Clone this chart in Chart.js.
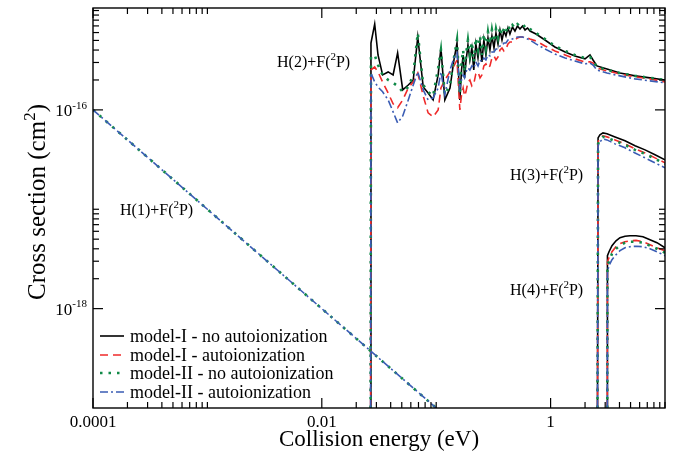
<!DOCTYPE html>
<html>
<head>
<meta charset="utf-8">
<title>Cross section vs collision energy</title>
<script src="https://cdn.jsdelivr.net/npm/chart.js@4.4.1/dist/chart.umd.min.js"></script>
<style>
    html, body { margin: 0; padding: 0; background: #fff; }
    #chart { display: block; }
</style>
</head>
<body>
<canvas id="chart" width="673" height="455"></canvas>
<script>
// Axis ticks (log-log axes)
const xTickValues = [1e-4, 1e-2, 1];
const xTickLabels = ['0.0001', '0.01', '1'];
const yTickValues = [1e-18, 1e-16];
const yTickExponents = ['-18', '-16'];

const seriesNames = [
    'model-I - no autoionization',
    'model-I - autoionization',
    'model-II - no autoionization',
    'model-II - autoionization'
];

// H(1)+F(2P) channel, only drawn for the model-II curves
const h1Energy = [1e-4, 1e-3, 1e-2, 0.1];
const h1Sigma = [1e-16, 1e-17, 1e-18, 1e-19];

// H(2)+F(2P) channel
const h2Energy = [0.0267, 0.0269, 0.029, 0.031, 0.034, 0.038, 0.042, 0.046, 0.051, 0.057,
    0.063, 0.069, 0.077, 0.085, 0.094, 0.104, 0.110, 0.119, 0.132, 0.143,
    0.152, 0.161, 0.1665, 0.172, 0.177, 0.182, 0.1895, 0.197, 0.205, 0.213,
    0.222, 0.232, 0.2415, 0.251, 0.261, 0.272, 0.2835, 0.295, 0.307, 0.320,
    0.333, 0.347, 0.361, 0.376, 0.391, 0.407, 0.424, 0.441, 0.464, 0.488,
    0.513, 0.540, 0.568, 0.598, 0.629, 0.661, 0.745, 0.893, 1.09, 1.34,
    1.63, 2.00, 2.21, 2.35, 2.54, 3.11, 4.04, 5.47, 7.39, 10];
const h2ModelINoAuto = [1e-19, 4.71e-16, 7.31e-16, 3.57e-16, 2.25e-16, 2.41e-16, 2.25e-16, 3.74e-16, 1.59e-16, 1.78e-16,
    2.00e-16, 5.41e-16, 1.70e-16, 1.48e-16, 1.26e-16, 2.25e-16, 4.20e-16, 1.26e-16, 1.66e-16, 3.18e-16,
    4.71e-16, 1.26e-16, 2.52e-16, 3.57e-16, 2.10e-16, 3.04e-16, 4.50e-16, 3.18e-16, 4.20e-16, 2.52e-16,
    4.61e-16, 3.33e-16, 4.82e-16, 3.04e-16, 5.05e-16, 3.57e-16, 5.29e-16, 4.01e-16, 5.54e-16, 4.20e-16,
    5.94e-16, 4.61e-16, 6.37e-16, 5.05e-16, 6.22e-16, 5.54e-16, 6.67e-16, 5.80e-16, 6.82e-16, 6.22e-16,
    6.98e-16, 6.52e-16, 6.98e-16, 6.37e-16, 6.67e-16, 6.22e-16, 5.80e-16, 5.05e-16, 4.30e-16, 3.83e-16,
    3.49e-16, 3.26e-16, 3.57e-16, 3.18e-16, 2.77e-16, 2.58e-16, 2.35e-16, 2.20e-16, 2.10e-16, 2.00e-16];
const h2ModelIAuto = [1e-19, 2.52e-16, 2.70e-16, 2.41e-16, 1.91e-16, 1.48e-16, 1.15e-16, 1.05e-16, 1.26e-16, 1.66e-16,
    1.91e-16, 2.35e-16, 1.38e-16, 9.33e-17, 8.50e-17, 1.00e-16, 1.66e-16, 2.00e-16, 2.41e-16, 2.77e-16,
    3.18e-16, 1.00e-16, 1.42e-16, 1.66e-16, 1.38e-16, 1.52e-16, 1.91e-16, 2.00e-16, 1.74e-16, 1.83e-16,
    2.30e-16, 2.41e-16, 2.10e-16, 2.25e-16, 2.77e-16, 2.90e-16, 2.64e-16, 2.77e-16, 3.33e-16, 3.49e-16,
    3.18e-16, 3.41e-16, 4.01e-16, 4.20e-16, 3.92e-16, 4.10e-16, 4.61e-16, 4.82e-16, 4.82e-16, 5.05e-16,
    5.29e-16, 5.41e-16, 5.41e-16, 5.41e-16, 5.29e-16, 5.17e-16, 4.94e-16, 4.40e-16, 3.92e-16, 3.57e-16,
    3.26e-16, 3.04e-16, 3.04e-16, 2.97e-16, 2.64e-16, 2.47e-16, 2.30e-16, 2.15e-16, 2.05e-16, 1.91e-16];
const h2ModelIINoAuto = [1e-19, 3.41e-16, 3.57e-16, 2.83e-16, 2.25e-16, 2.00e-16, 1.87e-16, 1.74e-16, 1.52e-16, 1.70e-16,
    2.25e-16, 5.94e-16, 1.78e-16, 1.52e-16, 1.38e-16, 2.64e-16, 4.01e-16, 1.42e-16, 1.78e-16, 3.33e-16,
    5.05e-16, 1.42e-16, 3.04e-16, 4.01e-16, 2.41e-16, 3.57e-16, 5.05e-16, 3.57e-16, 4.82e-16, 3.04e-16,
    5.29e-16, 4.01e-16, 5.54e-16, 3.57e-16, 5.80e-16, 4.20e-16, 6.08e-16, 4.61e-16, 6.37e-16, 4.82e-16,
    6.52e-16, 5.29e-16, 6.82e-16, 5.67e-16, 6.67e-16, 6.08e-16, 7.15e-16, 6.37e-16, 7.15e-16, 6.67e-16,
    7.31e-16, 6.98e-16, 7.31e-16, 6.82e-16, 6.98e-16, 6.52e-16, 5.94e-16, 5.17e-16, 4.40e-16, 3.92e-16,
    3.57e-16, 3.33e-16, 3.41e-16, 3.11e-16, 2.70e-16, 2.52e-16, 2.35e-16, 2.20e-16, 2.10e-16, 2.00e-16];
const h2ModelIIAuto = [1e-19, 2.35e-16, 1.91e-16, 1.70e-16, 1.52e-16, 1.26e-16, 9.55e-17, 7.40e-17, 8.70e-17, 1.26e-16,
    1.78e-16, 2.41e-16, 1.59e-16, 1.26e-16, 1.32e-16, 1.66e-16, 2.41e-16, 1.42e-16, 2.52e-16, 3.33e-16,
    3.74e-16, 1.66e-16, 2.00e-16, 2.25e-16, 2.10e-16, 2.41e-16, 2.64e-16, 2.52e-16, 2.77e-16, 2.64e-16,
    3.04e-16, 2.77e-16, 3.18e-16, 3.04e-16, 3.33e-16, 3.18e-16, 3.57e-16, 3.49e-16, 3.83e-16, 3.83e-16,
    4.10e-16, 4.10e-16, 4.40e-16, 4.40e-16, 4.71e-16, 4.71e-16, 5.05e-16, 5.05e-16, 5.17e-16, 5.29e-16,
    5.41e-16, 5.41e-16, 5.41e-16, 5.29e-16, 5.17e-16, 5.05e-16, 4.61e-16, 4.10e-16, 3.65e-16, 3.33e-16,
    3.11e-16, 2.90e-16, 2.97e-16, 2.83e-16, 2.52e-16, 2.35e-16, 2.20e-16, 2.05e-16, 1.96e-16, 1.87e-16];

// H(3)+F(2P) channel
const h3Energy = [2.57, 2.60, 2.70, 2.87, 3.11, 3.66, 4.47, 5.47, 6.69, 8.18, 10];
const h3ModelINoAuto = [1e-19, 5.23e-17, 5.60e-17, 5.87e-17, 5.74e-17, 5.35e-17, 4.88e-17, 4.35e-17, 3.96e-17, 3.53e-17, 3.14e-17];
const h3ModelIAuto = [1e-19, 4.77e-17, 5.23e-17, 5.48e-17, 5.35e-17, 4.99e-17, 4.55e-17, 4.06e-17, 3.69e-17, 3.29e-17, 2.93e-17];
const h3ModelIINoAuto = [1e-19, 4.55e-17, 4.99e-17, 5.35e-17, 5.23e-17, 4.88e-17, 4.45e-17, 3.96e-17, 3.61e-17, 3.22e-17, 2.87e-17];
const h3ModelIIAuto = [1e-19, 4.35e-17, 4.77e-17, 5.11e-17, 4.99e-17, 4.55e-17, 4.15e-17, 3.69e-17, 3.29e-17, 2.93e-17, 2.61e-17];

// H(4)+F(2P) channel
const h4Energy = [3.13, 3.14, 3.24, 3.44, 3.73, 4.04, 4.47, 4.94, 5.58, 6.42, 7.39, 8.51, 10];
const h4ModelINoAuto = [1e-19, 3.41e-18, 3.74e-18, 4.30e-18, 4.82e-18, 5.17e-18, 5.35e-18, 5.41e-18, 5.41e-18, 5.29e-18, 4.94e-18, 4.61e-18, 4.10e-18];
const h4ModelIAuto = [1e-19, 2.97e-18, 3.26e-18, 3.74e-18, 4.20e-18, 4.50e-18, 4.71e-18, 4.82e-18, 4.86e-18, 4.71e-18, 4.40e-18, 4.10e-18, 3.83e-18];
const h4ModelIINoAuto = [1e-19, 2.77e-18, 2.97e-18, 3.57e-18, 4.01e-18, 4.30e-18, 4.61e-18, 4.71e-18, 4.71e-18, 4.61e-18, 4.30e-18, 4.01e-18, 3.65e-18];
const h4ModelIIAuto = [1e-19, 2.35e-18, 2.71e-18, 3.11e-18, 3.49e-18, 3.83e-18, 4.10e-18, 4.20e-18, 4.25e-18, 4.20e-18, 4.01e-18, 3.74e-18, 3.41e-18];

// Channel labels
const channelLabels = ['1', '2', '3', '4'];

const FONT = '"Liberation Serif", "Times New Roman", serif';

const seriesStyles = [
    { color: '#000000', dash: [], width: 1.6 },
    { color: '#ef2a2a', dash: [8, 5], width: 1.6 },
    { color: '#118a48', dash: [2.5, 6], width: 2.6 },
    { color: '#3a5cb4', dash: [8, 3, 2, 3], width: 1.6 }
];

function toPoints(energy, values) {
    return energy.map((e, i) => ({ x: e, y: values[i] }));
}

// joins several curve segments into one dataset, with a gap between them
function joinSegments(segments) {
    const out = [];
    segments.forEach((seg, i) => {
        if (i > 0) out.push({ x: seg[0].x, y: null });
        out.push(...seg);
    });
    return out;
}

const seriesData = [
    joinSegments([toPoints(h2Energy, h2ModelINoAuto), toPoints(h3Energy, h3ModelINoAuto), toPoints(h4Energy, h4ModelINoAuto)]),
    joinSegments([toPoints(h2Energy, h2ModelIAuto), toPoints(h3Energy, h3ModelIAuto), toPoints(h4Energy, h4ModelIAuto)]),
    joinSegments([toPoints(h1Energy, h1Sigma), toPoints(h2Energy, h2ModelIINoAuto), toPoints(h3Energy, h3ModelIINoAuto), toPoints(h4Energy, h4ModelIINoAuto)]),
    joinSegments([toPoints(h1Energy, h1Sigma), toPoints(h2Energy, h2ModelIIAuto), toPoints(h3Energy, h3ModelIIAuto), toPoints(h4Energy, h4ModelIIAuto)])
];

/**
 * Draws text with a superscript part: parts = [[text, isSup], ...]
 */
function drawRich(ctx, parts, x, y, size, supSize) {
    let cx = x;
    parts.forEach(([text, sup]) => {
        ctx.font = (sup ? supSize : size) + 'px ' + FONT;
        ctx.fillText(text, cx, sup ? y - size * 0.42 : y);
        cx += ctx.measureText(text).width;
    });
    return cx - x;
}

function richWidth(ctx, parts, size, supSize) {
    let w = 0;
    parts.forEach(([text, sup]) => {
        ctx.font = (sup ? supSize : size) + 'px ' + FONT;
        w += ctx.measureText(text).width;
    });
    return w;
}

/**
 * Frame, inward ticks on all four sides, labels, titles, annotations and legend
 */
const framePlugin = {
    id: 'frame',
    afterDatasetsDraw(chart) {
        const { ctx, chartArea: a, scales } = chart;
        const xs = scales.x, ys = scales.y;
        ctx.save();
        ctx.strokeStyle = '#000';
        ctx.fillStyle = '#000';
        ctx.lineWidth = 1.4;
        ctx.setLineDash([]);
        ctx.strokeRect(a.left, a.top, a.right - a.left, a.bottom - a.top);

        function seg(x1, y1, x2, y2) {
            ctx.beginPath();
            ctx.moveTo(x1, y1);
            ctx.lineTo(x2, y2);
            ctx.stroke();
        }

        // x ticks
        ctx.lineWidth = 1.2;
        xTickValues.forEach(major => {
            const px = xs.getPixelForValue(major);
            if (px >= a.left - 0.5 && px <= a.right + 0.5) {
                seg(px, a.bottom, px, a.bottom - 10);
                seg(px, a.top, px, a.top + 10);
            }
            for (let k = 2; k <= 10; k++) {
                const p = xs.getPixelForValue(major * k);
                if (p < a.left - 0.5 || p > a.right + 0.5) continue;
                seg(p, a.bottom, p, a.bottom - 6);
                seg(p, a.top, p, a.top + 6);
            }
        });
        // y ticks
        yTickValues.forEach(major => {
            const py = ys.getPixelForValue(major);
            seg(a.left, py, a.left + 10, py);
            seg(a.right, py, a.right - 10, py);
            for (let k = 2; k <= 10; k++) {
                const p = ys.getPixelForValue(major * k);
                if (p < a.top - 0.5 || p > a.bottom + 0.5) continue;
                seg(a.left, p, a.left + 6, p);
                seg(a.right, p, a.right - 6, p);
            }
        });

        // tick labels
        ctx.textBaseline = 'alphabetic';
        ctx.textAlign = 'center';
        ctx.font = '17px ' + FONT;
        xTickValues.forEach((v, i) => {
            ctx.fillText(xTickLabels[i], xs.getPixelForValue(v), a.bottom + 19);
        });
        ctx.textAlign = 'left';
        yTickValues.forEach((v, i) => {
            const py = ys.getPixelForValue(v);
            const parts = [['10', false], [yTickExponents[i], true]];
            const w = richWidth(ctx, parts, 17, 11);
            drawRich(ctx, parts, a.left - 6 - w, py + 6, 17, 11);
        });

        // axis titles
        ctx.textAlign = 'center';
        ctx.font = '23px ' + FONT;
        ctx.fillText('Collision energy (eV)', (a.left + a.right) / 2, 446);
        const yTitle = [['Cross section (cm', false], ['2', true], [')', false]];
        ctx.save();
        ctx.translate(45, 202);
        ctx.rotate(-Math.PI / 2);
        ctx.textAlign = 'left';
        const tw = richWidth(ctx, yTitle, 25, 17);
        drawRich(ctx, yTitle, -tw / 2, 0, 25, 17);
        ctx.restore();

        // channel annotations
        ctx.textAlign = 'left';
        const labelPos = [[120, 215], [277, 67], [510, 180], [510, 295]];
        channelLabels.forEach((n, i) => {
            const parts = [['H(' + n + ')+F(', false], ['2', true], ['P)', false]];
            drawRich(ctx, parts, labelPos[i][0], labelPos[i][1], 16, 11);
        });

        // legend
        const rowY = [336, 355, 373, 392];
        seriesNames.forEach((name, i) => {
            const st = seriesStyles[i];
            ctx.strokeStyle = st.color;
            ctx.lineWidth = st.width;
            ctx.setLineDash(st.dash);
            seg(100, rowY[i], 124, rowY[i]);
            ctx.setLineDash([]);
            ctx.fillStyle = '#000';
            ctx.font = '18px ' + FONT;
            ctx.fillText(name, 130, rowY[i] + 6);
        });
        ctx.restore();
    }
};

document.addEventListener('DOMContentLoaded', function() {
    const ctx = document.getElementById('chart');
    new Chart(ctx, {
        type: 'line',
        data: {
            datasets: seriesData.map((data, i) => ({
                label: seriesNames[i],
                data: data,
                borderColor: seriesStyles[i].color,
                borderDash: seriesStyles[i].dash,
                borderWidth: seriesStyles[i].width,
                pointRadius: 0,
                tension: 0,
                fill: false,
                spanGaps: false,
                order: 4 - i
            }))
        },
        options: {
            responsive: false,
            animation: false,
            devicePixelRatio: 1,
            layout: {
                padding: { left: 93, top: 8, right: 8, bottom: 47 }
            },
            plugins: {
                legend: { display: false },
                tooltip: { enabled: false }
            },
            scales: {
                x: { type: 'logarithmic', min: 1e-4, max: 10, display: false },
                y: { type: 'logarithmic', min: 1e-19, max: 1.06e-15, display: false }
            }
        },
        plugins: [framePlugin]
    });
});
</script>
</body>
</html>
